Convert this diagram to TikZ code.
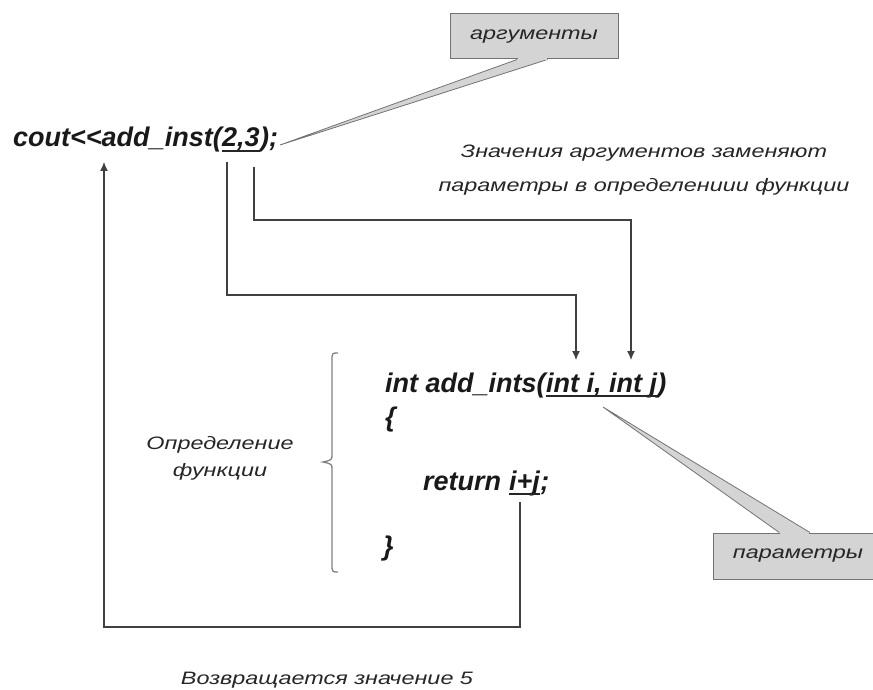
\documentclass[tikz,border=0pt]{standalone}
\usepackage{fontspec}
\setmainfont{Liberation Sans}
\newfontfamily\notefont[FakeStretch=1.3]{Liberation Sans}
\usetikzlibrary{positioning,calc,arrows.meta}

\tikzset{
  code/.style={font=\fontsize{27}{30}\selectfont\bfseries\itshape, text=black!90, inner sep=0pt, anchor=base west},
  note/.style={font=\notefont\itshape\fontsize{18}{34}\selectfont, text=black!85, inner sep=0pt, align=center},
  tightnote/.style={note, font=\notefont\itshape\fontsize{18}{27}\selectfont},
  wire/.style={draw=black!75, line width=1.2pt},
  arr/.style={wire, -{Latex[length=9pt,width=8pt]}},
  uline/.style={draw=black!85, line width=1.3pt},
  callout/.style={draw=black!55, fill=black!17, line width=1pt, inner sep=0pt,
    minimum height=45pt, font=\notefont\itshape\fontsize{18}{20}\selectfont, text=black!85},
  pointer/.style={draw=black!55, fill=black!17, line width=0.8pt, line join=miter},
  bracket/.style={draw=black!50, line width=1.3pt},
}

\begin{document}
\begin{tikzpicture}[x=1pt,y=1pt,yscale=-1]
\useasboundingbox (0,0) rectangle (873,690);

% call line
\node[code] (call) at (13,147) {cout<{}<add\_inst(};
\node[code] (args) at (call.base east) {2,3};
\node[code] (callend) at (args.base east) {);};
\draw[uline] ($(args.base west)+(0,4)$) -- ($(args.base east)+(0,4)$);

% function definition
\node[code] (sig) at (385,392) {int add\_ints(};
\node[code] (params) at (sig.base east) {int i, int j};
\node[code] (sigend) at (params.base east) {)};
\draw[uline] ($(params.base west)+(0,4)$) -- ($(params.base east)+(0,4)$);
\node[code] (open) at (385,426) {\{};
\node[code] (ret) at (423,490) {return};
\node[code, xshift=7.5pt] (sum) at (ret.base east) {i+j};
\node[code] (retend) at (sum.base east) {;};
\draw[uline] ($(sum.base west)+(0,4)$) -- ($(sum.base east)+(0,4)$);
\node[code] (close) at (383,555) {\}};

% brace
\draw[bracket] (338,353) .. controls (332,353) .. (332,361) -- (332,454) .. controls (332,460) .. (323,462) .. controls (332,464) .. (332,470) -- (332,564) .. controls (332,572) .. (338,572);

% text notes
\node[note] (subst) at (644,170) {Значения аргументов заменяют\\параметры в определениии функции};
\node[tightnote] (defn) at (220,458) {Определение\\функции};
\node[note] (retval) at (327,680) {Возвращается значение 5};

% connectors
\coordinate (argI) at (227,162);
\coordinate (argJ) at (254,167);
\coordinate (parI) at (576,360);
\coordinate (parJ) at (631,360);
\coordinate (retout) at (520,502);
\coordinate (callin) at (104,162);
\draw[arr] (argI) -- ++(0,133) -| (parI);
\draw[arr] (argJ) -- ++(0,53) -| (parJ);
\draw[arr] (retout) -- ++(0,125) -| (callin);

% callouts
\node[callout, minimum width=168pt] (argbox) at (534,36.5) {аргументы};
\coordinate (argtip) at (280,145);
\filldraw[pointer] ($(argbox.south west)!0.40!(argbox.south east)$) -- (argtip) -- ($(argbox.south west)!0.58!(argbox.south east)$);
\fill[black!17] ($(argbox.south west)!0.40!(argbox.south east)+(0.6,-1)$) rectangle ($(argbox.south west)!0.58!(argbox.south east)+(-0.6,1)$);

\node[callout, minimum width=170pt, minimum height=46pt] (parbox) at (798,556) {параметры};
\coordinate (partip) at (603,407);
\filldraw[pointer] ($(parbox.north west)!0.39!(parbox.north east)$) -- (partip) -- ($(parbox.north west)!0.57!(parbox.north east)$);
\fill[black!17] ($(parbox.north west)!0.39!(parbox.north east)+(0.6,-1)$) rectangle ($(parbox.north west)!0.57!(parbox.north east)+(-0.6,1)$);

\end{tikzpicture}
\end{document}
